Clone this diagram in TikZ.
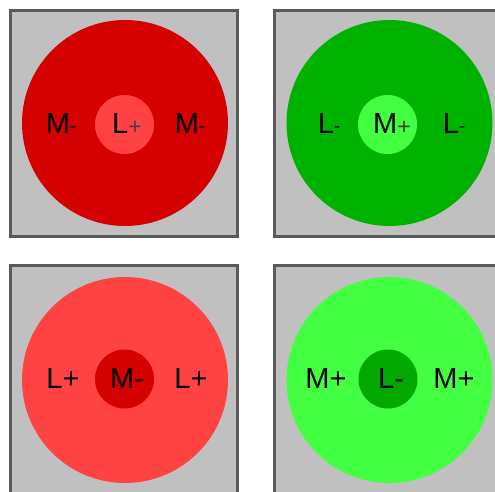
\documentclass[tikz,border=0pt]{standalone}
\usepackage{fontspec}
\setmainfont{Liberation Sans}
\definecolor{panelgray}{HTML}{C0C0C0}
\definecolor{framegray}{HTML}{5A5A5A}
\definecolor{darkred}{HTML}{D50000}
\definecolor{lightred}{HTML}{FF4242}
\definecolor{darkgreen}{HTML}{00B200}
\definecolor{lightgreen}{HTML}{42FF42}
\definecolor{midgreen}{HTML}{00A800}
\begin{document}
\begin{tikzpicture}[x=1pt,y=1pt,
  panel/.style={fill=panelgray,draw=framegray,line width=3pt},
  outerdisc/.style={circle,inner sep=0pt,minimum size=206pt},
  innerdisc/.style={circle,inner sep=0pt,minimum size=59pt},
  lbl/.style={inner sep=0pt,font=\fontsize{29}{29}\selectfont,text=black}]
\useasboundingbox (0,0) rectangle (495,491);
\clip (0,0) rectangle (495,491);
% top-left
\node[panel,minimum width=227pt,minimum height=226pt,inner sep=0pt] (tlp) at (124,367.5) {};
\node[outerdisc,fill=darkred] (tlo) at (125,368) {};
\node[innerdisc,fill=lightred] (tli) at (124.5,366.5) {};
\node[lbl] (tla) at (61,367) {M\raisebox{1pt}{\fontsize{19}{19}\selectfont -}};
\node[lbl] (tlb) at (127,367) {L\raisebox{-1pt}{\fontsize{23}{23}\selectfont\color{black!75}+}};
\node[lbl] (tlc) at (190,367) {M\raisebox{1pt}{\fontsize{19}{19}\selectfont -}};
% top-right
\node[panel,minimum width=260pt,minimum height=226pt,inner sep=0pt] (trp) at (404.5,367.5) {};
\node[outerdisc,fill=darkgreen] (tro) at (389.5,368) {};
\node[innerdisc,fill=lightgreen] (tri) at (387.5,366.5) {};
\node[lbl] (tra) at (329,367) {L\raisebox{1pt}{\fontsize{19}{19}\selectfont -}};
\node[lbl] (trb) at (392,367) {M\raisebox{-1pt}{\fontsize{23}{23}\selectfont\color{black!75}+}};
\node[lbl] (trc) at (454,367) {L\raisebox{1pt}{\fontsize{19}{19}\selectfont -}};
% bottom-left
\node[panel,minimum width=227pt,minimum height=240pt,inner sep=0pt] (blp) at (124,106) {};
\node[outerdisc,fill=lightred] (blo) at (125,111) {};
\node[innerdisc,fill=darkred] (bli) at (124.5,112) {};
\node[lbl] (bla) at (63,112.5) {L+};
\node[lbl] (blb) at (127,112.5) {M-};
\node[lbl] (blc) at (191,112.5) {L+};
% bottom-right
\node[panel,minimum width=260pt,minimum height=240pt,inner sep=0pt] (brp) at (404.5,106) {};
\node[outerdisc,fill=lightgreen] (bro) at (389.5,111) {};
\node[innerdisc,fill=midgreen] (bri) at (388,112) {};
\node[lbl] (bra) at (326,112.5) {M+};
\node[lbl] (brb) at (391,112.5) {L-};
\node[lbl] (brc) at (454,112.5) {M+};
\end{tikzpicture}
\end{document}
